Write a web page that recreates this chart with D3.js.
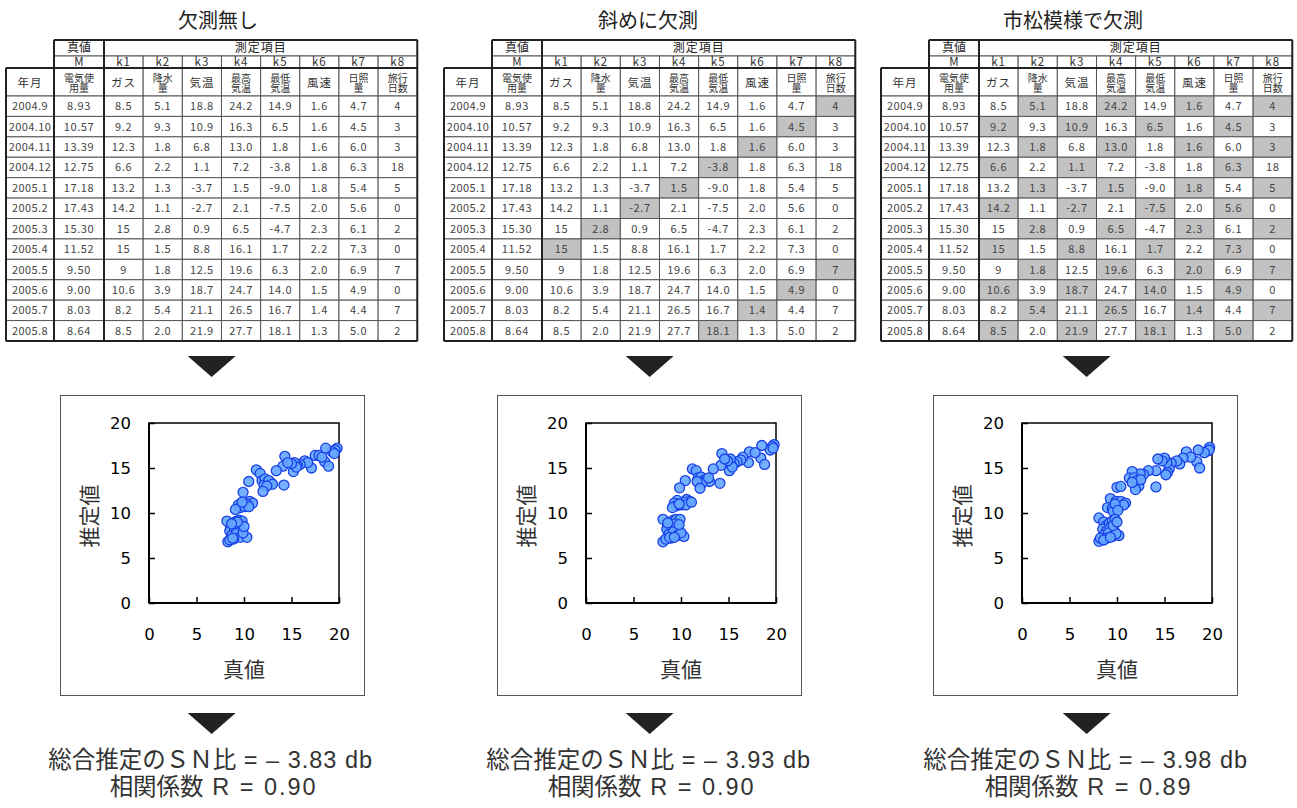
<!DOCTYPE html>
<html><head><meta charset="utf-8">
<script src="https://cdn.jsdelivr.net/npm/d3@7"></script>
<style>body{margin:0;background:#fff}svg{display:block}</style>
</head><body><svg id="c" width="1297" height="808"></svg>
<script>
// ---------------- data ----------------
const panelTitles = ["欠測無し", "斜めに欠測", "市松模様で欠測"];
const months = ["2004.9","2004.10","2004.11","2004.12","2005.1","2005.2","2005.3","2005.4","2005.5","2005.6","2005.7","2005.8"];
const trueM = ["8.93","10.57","13.39","12.75","17.18","17.43","15.30","11.52","9.50","9.00","8.03","8.64"];
const k1 = ["8.5","9.2","12.3","6.6","13.2","14.2","15","15","9","10.6","8.2","8.5"];
const k2 = ["5.1","9.3","1.8","2.2","1.3","1.1","2.8","1.5","1.8","3.9","5.4","2.0"];
const k3 = ["18.8","10.9","6.8","1.1","-3.7","-2.7","0.9","8.8","12.5","18.7","21.1","21.9"];
const k4 = ["24.2","16.3","13.0","7.2","1.5","2.1","6.5","16.1","19.6","24.7","26.5","27.7"];
const k5 = ["14.9","6.5","1.8","-3.8","-9.0","-7.5","-4.7","1.7","6.3","14.0","16.7","18.1"];
const k6 = ["1.6","1.6","1.6","1.8","1.8","2.0","2.3","2.2","2.0","1.5","1.4","1.3"];
const k7 = ["4.7","4.5","6.0","6.3","5.4","5.6","6.1","7.3","6.9","4.9","4.4","5.0"];
const k8 = ["4","3","3","18","5","0","2","0","7","0","7","2"];
const itemCodes = ["k1","k2","k3","k4","k5","k6","k7","k8"];
const itemNames = [["ガス"],["降水","量"],["気温"],["最高","気温"],["最低","気温"],["風速"],["日照","量"],["旅行","日数"]];
const trueHeader = ["真値", "M", ["電気使","用量"]];
const itemsHeader = "測定項目";
const monthHeader = "年月";
// missing cells (k index, 1-based) per row
const missingNone = months.map(() => []);
const missingDiagonal = [[8],[7],[6],[5],[4],[3],[2],[1],[8],[7],[6],[5]];
const missingChecker = [[2,4,6,8],[1,3,5,7],[2,4,6,8],[1,3,7],[2,4,6,8],[1,3,5,7],[2,4,6,8],[1,3,5,7],[2,4,6,8],[1,3,5,7],[2,4,6,8],[1,3,5,7]];
const snRatios = ["– 3.83", "– 3.93", "– 3.98"];
const correlations = ["0.90", "0.90", "0.89"];
const axisTicks = [0, 5, 10, 15, 20];
const scatterNone = [[19.8,17.2],[19.6,17.0],[19.3,16.8],[19.5,16.6],[18.6,17.2],[18.5,15.7],[18.9,15.2],[17.5,16.4],[17.9,16.4],[18.2,16.2],[17.1,15.0],[16.4,15.8],[16.7,15.6],[15.9,15.4],[15.6,15.3],[15.3,15.6],[15.2,14.6],[15.5,15.1],[15.0,15.5],[14.3,16.3],[14.1,15.2],[14.6,15.6],[13.4,14.7],[14.2,13.1],
[11.3,14.8],[11.7,14.4],[10.5,13.5],[11.9,13.6],[12.2,13.8],[12.5,13.3],[12.8,13.4],[12.1,13.1],[12.6,13.6],[13.0,13.2],[12.4,13.0],[12.0,12.4],[9.9,12.3],
[10.6,11.3],[10.9,11.1],[10.3,11.0],[9.7,11.0],[9.4,10.9],[9.6,10.6],[10.1,10.7],[10.5,10.7],[9.1,10.4],[9.8,11.2],
[8.2,9.1],[8.6,8.4],[8.9,8.9],[9.2,9.1],[9.5,9.2],[9.8,9.1],[8.5,8.0],[9.0,8.2],[9.4,8.6],[9.7,8.0],[8.7,7.5],[9.2,7.7],[9.6,7.3],[8.9,7.1],[10.3,7.3],[8.3,6.8],[8.5,7.0],[8.8,7.2],[9.9,7.8],[10.0,8.5],[9.3,9.0],[8.7,8.8]];
const scatterDiagonal = [[19.8,17.6],[19.6,17.4],[19.4,17.0],[19.7,17.2],[18.5,17.5],[18.4,16.1],[18.8,15.4],[17.2,16.8],[17.8,16.7],[17.1,15.6],[16.5,16.2],[16.3,15.9],[15.9,15.7],[15.6,15.5],[15.3,15.3],[15.2,16.0],[15.1,14.7],[15.4,15.1],[14.9,15.8],[14.3,16.6],[14.2,15.3],[14.6,16.0],[13.4,14.9],[14.1,13.3],
[11.2,14.9],[11.6,14.7],[10.45,13.6],[9.85,12.8],[11.8,13.9],[12.1,14.0],[12.4,13.6],[12.7,13.8],[13.0,13.5],[12.2,13.3],[11.7,13.5],[12.9,13.9],[12.0,12.75],
[10.6,11.5],[10.9,11.3],[10.3,11.2],[9.6,11.4],[9.3,11.1],[9.5,10.8],[10.0,10.9],[10.5,10.9],[9.1,10.6],[9.8,11.0],[11.1,11.2],
[8.1,9.3],[8.6,8.6],[8.9,9.0],[9.2,9.2],[9.5,9.3],[9.9,9.3],[8.5,8.2],[9.0,8.4],[9.4,8.8],[9.7,8.2],[8.7,7.6],[9.2,7.9],[9.6,7.5],[8.9,7.2],[10.3,7.4],[8.1,6.8],[8.4,7.1],[8.8,7.3],[10.0,7.8],[9.8,8.7],[9.3,7.3],[8.6,8.9]];
const scatterChecker = [[19.75,17.3],[19.5,16.9],[19.7,17.0],[19.2,16.7],[18.55,17.0],[18.4,15.7],[18.7,15.0],[17.3,16.8],[17.75,16.2],[16.95,16.1],[16.6,15.45],[16.3,15.8],[15.7,15.55],[15.5,14.9],[15.3,14.5],[15.15,14.25],[15.25,15.6],[15.0,16.1],[14.75,15.8],[14.3,16.0],[14.1,14.7],[14.1,12.9],[13.3,14.7],[12.8,14.3],[12.45,14.35],
[11.6,14.6],[11.3,13.9],[11.8,13.9],[12.1,13.6],[12.3,13.0],[11.95,12.6],[12.5,13.7],[11.6,13.4],[10.0,12.85],[10.4,12.95],
[9.3,11.6],[9.9,11.3],[10.4,11.3],[10.9,11.1],[9.0,10.6],[9.5,10.5],[10.2,10.7],[10.7,10.9],[9.6,10.2],[9.8,11.0],[10.1,10.3],
[8.1,9.45],[8.6,9.0],[8.9,8.6],[9.2,8.9],[9.5,9.1],[9.8,9.3],[8.5,8.2],[8.9,8.0],[9.3,8.4],[9.7,8.0],[8.7,7.6],[9.1,7.8],[9.5,7.4],[8.9,7.2],[10.2,7.5],[8.1,6.85],[8.25,7.2],[8.6,7.0],[9.9,7.7],[9.6,8.6],[9.3,7.3],[10.0,9.0]];

// ---------------- drawing ----------------
const svg = d3.select("#c");
svg.append("rect").attr("width",1297).attr("height",808).attr("fill","#fff");
const JP = "'Noto Sans CJK JP','Noto Sans',sans-serif";
const MIX = "'Liberation Sans','Noto Sans CJK JP',sans-serif";
const kCols = [k1,k2,k3,k4,k5,k6,k7,k8];
const panels = [
  {tx:0,   tcx:218, miss:missingNone, pts:scatterNone},
  {tx:438, tcx:648, miss:missingDiagonal, pts:scatterDiagonal},
  {tx:875, tcx:1073, miss:missingChecker, pts:scatterChecker}
];
panels.forEach((p,i)=>{p.title = panelTitles[i]; p.sn = snRatios[i]; p.r = correlations[i];});

const rowY = d3.scaleBand().domain(months).range([96, 341]);
const kX = d3.scaleBand().domain(itemCodes).range([104, 417.3]);
const colYM = [6, 54], colM = [54, 104];

function triangle(g, cx, y){
  g.append("path").attr("d", `M${cx-24},${y} L${cx+24},${y} L${cx},${y+21} Z`).attr("fill","#222");
}

panels.forEach((p, pi) => {
  const g = svg.append("g");
  g.append("text").attr("x", p.tcx).attr("y", 28).attr("text-anchor","middle")
    .attr("font-family", JP).attr("font-size", 20).attr("fill","#222").text(p.title);

  const t = g.append("g").attr("transform", `translate(${p.tx},0)`);
  const cellStroke = "#555";
  // header row 1
  t.append("rect").attr("x",colM[0]).attr("y",40).attr("width",colM[1]-colM[0]).attr("height",16).attr("fill","#fff").attr("stroke",cellStroke);
  t.append("rect").attr("x",kX.range()[0]).attr("y",40).attr("width",kX.range()[1]-kX.range()[0]).attr("height",16).attr("fill","#fff").attr("stroke",cellStroke);
  t.append("text").attr("x",(colM[0]+colM[1])/2).attr("y",52.3).attr("text-anchor","middle").attr("font-family",JP).attr("font-size",12).attr("fill","#222").text(trueHeader[0]);
  t.append("text").attr("x",(kX.range()[0]+kX.range()[1])/2).attr("y",52.3).attr("text-anchor","middle").attr("font-family",JP).attr("font-size",12).attr("fill","#222").attr("letter-spacing",1).text(itemsHeader);
  // header row 2
  t.append("rect").attr("x",colM[0]).attr("y",56).attr("width",colM[1]-colM[0]).attr("height",12).attr("fill","#fff").attr("stroke",cellStroke);
  t.append("text").attr("x",(colM[0]+colM[1])/2).attr("y",65.5).attr("text-anchor","middle").attr("font-family",JP).attr("font-size",11.5).attr("fill","#333").text(trueHeader[1]);
  itemCodes.forEach(c=>{
    t.append("rect").attr("x",kX(c)).attr("y",56).attr("width",kX.bandwidth()).attr("height",12).attr("fill","#fff").attr("stroke",cellStroke);
    t.append("text").attr("x",kX(c)+kX.bandwidth()/2).attr("y",65.5).attr("text-anchor","middle").attr("font-family",JP).attr("font-size",11.5).attr("fill","#333").attr("letter-spacing",1).text(c);
  });
  // header row 3
  function hdr(x0,x1,lines){
    t.append("rect").attr("x",x0).attr("y",68).attr("width",x1-x0).attr("height",28).attr("fill","#fff").attr("stroke",cellStroke);
    const cx=(x0+x1)/2;
    if(lines.length===1){
      t.append("text").attr("x",cx).attr("y",87).attr("text-anchor","middle").attr("font-family",JP).attr("font-size",11.5).attr("fill","#333").attr("letter-spacing",1).text(lines[0]);
    } else {
      const tx = t.append("text").attr("x",cx).attr("y",81.6).attr("text-anchor","middle").attr("font-family",JP).attr("font-size",10).attr("fill","#333");
      lines.forEach((l,li)=>tx.append("tspan").attr("x",cx).attr("dy",li===0?0:10.3).text(l));
    }
  }
  hdr(colYM[0],colYM[1],[monthHeader]);
  hdr(colM[0],colM[1],trueHeader[2]);
  itemCodes.forEach((c,ci)=>hdr(kX(c),kX(c)+kX.bandwidth(),itemNames[ci]));
  // data rows
  months.forEach((m,ri)=>{
    const y=rowY(m), h=rowY.bandwidth(), cy=y+h/2+4;
    const row = t.append("g");
    row.append("rect").attr("x",colYM[0]).attr("y",y).attr("width",colYM[1]-colYM[0]).attr("height",h).attr("fill","#fff").attr("stroke",cellStroke);
    row.append("text").attr("x",(colYM[0]+colYM[1])/2).attr("y",cy).attr("text-anchor","middle").attr("font-family",JP).attr("font-size",11).attr("fill","#444").attr("letter-spacing",0.4).text(m);
    row.append("rect").attr("x",colM[0]).attr("y",y).attr("width",colM[1]-colM[0]).attr("height",h).attr("fill","#fff").attr("stroke",cellStroke);
    row.append("text").attr("x",(colM[0]+colM[1])/2).attr("y",cy).attr("text-anchor","middle").attr("font-family",JP).attr("font-size",11).attr("fill","#444").attr("letter-spacing",0.6).text(trueM[ri]);
    itemCodes.forEach((c,ci)=>{
      const shaded = p.miss[ri].includes(ci+1);
      row.append("rect").attr("x",kX(c)).attr("y",y).attr("width",kX.bandwidth()).attr("height",h).attr("fill",shaded?"#c2c2c2":"#fff").attr("stroke",cellStroke);
      row.append("text").attr("x",kX(c)+kX.bandwidth()/2).attr("y",cy).attr("text-anchor","middle").attr("font-family",JP).attr("font-size",11).attr("fill","#444").attr("letter-spacing",0.6).text(kCols[ci][ri]);
    });
  });
  const thick = (x1,y1,x2,y2)=>t.append("line").attr("x1",x1).attr("y1",y1).attr("x2",x2).attr("y2",y2).attr("stroke","#222").attr("stroke-width",2);
  const yEnd = rowY.range()[1];
  thick(colYM[0],68,colYM[0],yEnd);
  thick(colYM[0],yEnd,kX.range()[1],yEnd);
  thick(kX.range()[1],40,kX.range()[1],yEnd);
  thick(colYM[0],68,kX.range()[1],68);
  thick(colM[0],40,kX.range()[1],40);
  thick(colM[0],40,colM[0],yEnd);
  thick(colM[1],40,colM[1],yEnd);

  const cx = p.tx + (colYM[0]+kX.range()[1])/2;
  triangle(g, cx, 356);
  triangle(g, cx, 713);

  // scatter box
  const bx = p.tx + 60 - (pi===0?0:(pi===1?1:2));
  g.append("rect").attr("x",bx+0.5).attr("y",395.5).attr("width",304).attr("height",300).attr("fill","#fff").attr("stroke","#555").attr("stroke-width",1);
  const x = d3.scaleLinear().domain([0,20]).range([bx+89, bx+279]);
  const y = d3.scaleLinear().domain([0,20]).range([603, 423]);
  const pg = g.append("g");
  pg.append("rect").attr("x",x(0)).attr("y",y(20)).attr("width",x(20)-x(0)).attr("height",y(0)-y(20)).attr("fill","none").attr("stroke","#000").attr("stroke-width",1.5);
  const ax = pg.append("g").attr("transform",`translate(0,${y(0)})`)
    .call(d3.axisBottom(x).tickValues(axisTicks).tickSizeInner(-6).tickSizeOuter(0).tickPadding(25).tickFormat(d3.format("d")));
  const ay = pg.append("g").attr("transform",`translate(${x(0)},0)`)
    .call(d3.axisLeft(y).tickValues(axisTicks).tickSizeInner(-6).tickSizeOuter(0).tickPadding(18).tickFormat(d3.format("d")));
  [ax,ay].forEach(a=>{
    a.select(".domain").attr("stroke","#000").attr("stroke-width",2);
    a.selectAll(".tick line").attr("stroke","#000").attr("stroke-width",1.5);
    a.selectAll(".tick text").attr("font-family","'DejaVu Sans',sans-serif").attr("font-size",16.5).attr("fill","#000");
  });
  ax.select(".domain").attr("d",`M${x(0)},0H${x(20)}`);
  ay.select(".domain").attr("d",`M0,${y(0)}V${y(20)}`);
  pg.append("text").attr("transform",`translate(${bx+28},${(y(0)+y(20))/2+3}) rotate(-90)`).attr("text-anchor","middle").attr("dominant-baseline","central")
    .attr("font-family",JP).attr("font-size",21).attr("fill","#333").text("推定値");
  pg.append("text").attr("x",(x(0)+x(20))/2).attr("y",677).attr("text-anchor","middle")
    .attr("font-family",JP).attr("font-size",21).attr("fill","#333").text("真値");
  pg.append("g").selectAll("circle").data(p.pts).join("circle")
    .attr("cx",d=>x(d[0])).attr("cy",d=>y(d[1])).attr("r",5)
    .attr("fill","#66a8ff").attr("fill-opacity",0.9).attr("stroke","#1a40e6").attr("stroke-width",1.3);

  // results text
  const t1 = g.append("text").attr("x",cx-1).attr("y",768).attr("text-anchor","middle").attr("font-family",MIX).attr("font-size",23.5).attr("fill","#333");
  t1.append("tspan").text("総合推定のＳＮ比");
  t1.append("tspan").attr("letter-spacing",1).text(` = ${p.sn} db`);
  const t2 = g.append("text").attr("x",cx+2).attr("y",795).attr("text-anchor","middle").attr("font-family",MIX).attr("font-size",23.5).attr("fill","#333");
  t2.append("tspan").text("相関係数");
  t2.append("tspan").attr("letter-spacing",2).text(` R = ${p.r}`);
});
</script></body></html>
